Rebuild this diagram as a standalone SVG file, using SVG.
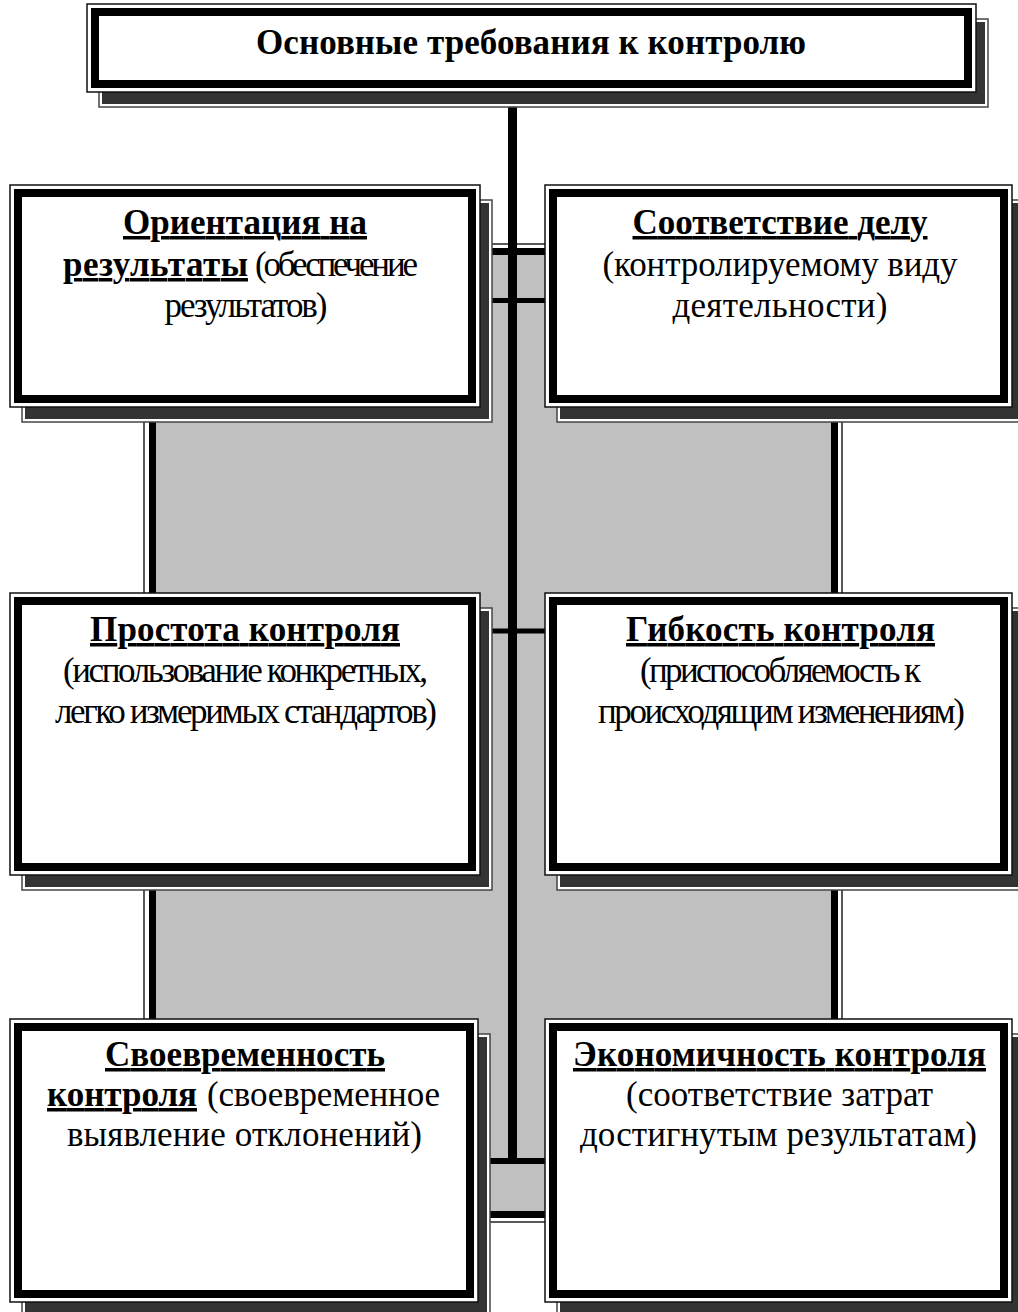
<svg xmlns="http://www.w3.org/2000/svg" width="1018" height="1312" viewBox="0 0 1018 1312">
<style>
.sh-o{fill:#fff;stroke:#444;stroke-width:1.5}
.sh-i{fill:#333}
.b-o{fill:#fff;stroke:#111;stroke-width:1.5}
.b-t{fill:#fff;stroke:#000;stroke-width:8}
.t{font-family:"Liberation Serif","Times New Roman",serif;font-size:35px;fill:#000}
.b{font-weight:bold}
.u{text-decoration:underline;text-decoration-thickness:3px}
.c{text-anchor:middle}
.ln{stroke:#000;fill:none}
</style>
<rect width="1018" height="1312" fill="#fff"/>
<g id="background">
<rect x="144" y="244" width="698" height="978" fill="none" stroke="#222" stroke-width="1.5"/>
<rect x="152.5" y="251.5" width="682" height="963" fill="#c0c0c0" stroke="#000" stroke-width="7"/>
</g>
<g id="connectors">
<line class="ln" x1="512.5" y1="92" x2="512.5" y2="1164" stroke-width="9"/>
<line class="ln" x1="470" y1="300.5" x2="560" y2="300.5" stroke-width="5"/>
<line class="ln" x1="470" y1="631" x2="560" y2="631" stroke-width="5"/>
<line class="ln" x1="470" y1="1161" x2="560" y2="1161" stroke-width="6"/>
</g>
<g id="node-top">
<rect class="sh-o" x="99" y="19" width="889" height="88"/>
<rect class="sh-i" x="102" y="22" width="883" height="82"/>
<rect class="b-o" x="87" y="4" width="889" height="88"/>
<rect class="b-t" x="95" y="12" width="873" height="72"/>
<text class="t b c" x="531" y="54" textLength="550">Основные требования к контролю</text>
</g>
<g id="node-orientation">
<rect class="sh-o" x="22" y="200" width="470" height="222"/>
<rect class="sh-i" x="25" y="203" width="464" height="216"/>
<rect class="b-o" x="10" y="185" width="470" height="222"/>
<rect class="b-t" x="18" y="193" width="454" height="206"/>
<text class="t b u c" x="245" y="234" textLength="244">Ориентация на</text>
<text class="t b u" x="63" y="276" textLength="185">результаты</text>
<text class="t" x="255" y="276" textLength="163">(обеспечение</text>
<text class="t c" x="246" y="317" textLength="163">результатов)</text>
</g>
<g id="node-correspondence">
<rect class="sh-o" x="557" y="200" width="467" height="222"/>
<rect class="sh-i" x="560" y="203" width="461" height="216"/>
<rect class="b-o" x="545" y="185" width="467" height="222"/>
<rect class="b-t" x="553" y="193" width="451" height="206"/>
<text class="t b u c" x="780" y="234" textLength="295">Соответствие делу</text>
<text class="t c" x="780" y="276" textLength="355">(контролируемому виду</text>
<text class="t c" x="780" y="317" textLength="215">деятельности)</text>
</g>
<g id="node-simplicity">
<rect class="sh-o" x="22" y="608" width="470" height="282"/>
<rect class="sh-i" x="25" y="611" width="464" height="276"/>
<rect class="b-o" x="10" y="593" width="470" height="282"/>
<rect class="b-t" x="18" y="601" width="454" height="266"/>
<text class="t b u c" x="245" y="641" textLength="310">Простота контроля</text>
<text class="t c" x="245.5" y="682" textLength="365">(использование конкретных,</text>
<text class="t c" x="246" y="723" textLength="382">легко измеримых стандартов)</text>
</g>
<g id="node-flexibility">
<rect class="sh-o" x="557" y="608" width="467" height="282"/>
<rect class="sh-i" x="560" y="611" width="461" height="276"/>
<rect class="b-o" x="545" y="593" width="467" height="282"/>
<rect class="b-t" x="553" y="601" width="451" height="266"/>
<text class="t b u c" x="780.5" y="641" textLength="309">Гибкость контроля</text>
<text class="t c" x="780.5" y="682" textLength="281">(приспособляемость к</text>
<text class="t c" x="781.5" y="723" textLength="367">происходящим изменениям)</text>
</g>
<g id="node-timeliness">
<rect class="sh-o" x="22" y="1034" width="468" height="283"/>
<rect class="sh-i" x="25" y="1037" width="462" height="277"/>
<rect class="b-o" x="10" y="1019" width="468" height="283"/>
<rect class="b-t" x="18" y="1027" width="452" height="267"/>
<text class="t b u c" x="245" y="1066" textLength="280">Своевременность</text>
<text class="t b u" x="47" y="1106" textLength="150">контроля</text>
<text class="t" x="207" y="1106" textLength="233">(своевременное</text>
<text class="t c" x="244.5" y="1146" textLength="355">выявление отклонений)</text>
</g>
<g id="node-economy">
<rect class="sh-o" x="557" y="1034" width="467" height="283"/>
<rect class="sh-i" x="560" y="1037" width="461" height="277"/>
<rect class="b-o" x="545" y="1019" width="467" height="283"/>
<rect class="b-t" x="553" y="1027" width="451" height="267"/>
<text class="t b u c" x="779.5" y="1066" textLength="413">Экономичность контроля</text>
<text class="t c" x="779.5" y="1106" textLength="307">(соответствие затрат</text>
<text class="t c" x="778.5" y="1146" textLength="397">достигнутым результатам)</text>
</g>
</svg>
